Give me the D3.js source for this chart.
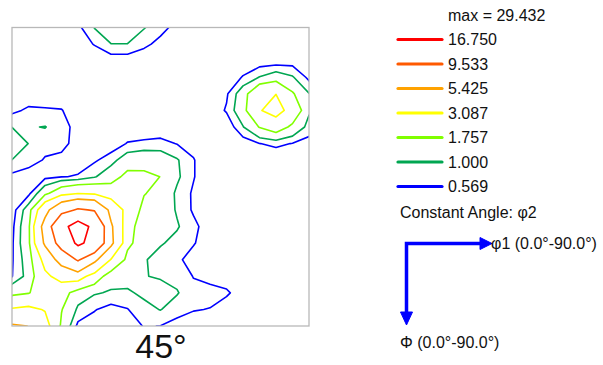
<!DOCTYPE html>
<html>
<head>
<meta charset="utf-8">
<script src="https://cdn.jsdelivr.net/npm/d3@7"></script>
<style>
  body { margin: 0; background: #fff; }
  text { font-family: Arial, "Liberation Sans", sans-serif; fill: #111; }
</style>
</head>
<body>
<svg id="chart" width="603" height="365"></svg>
<script>
// ODF section at constant phi2: intensity on a 5-degree grid,
// rows = Phi 0..90 (top to bottom), columns = phi1 0..90 (left to right).
const phi1Angles = d3.range(0, 95, 5);
const PhiAngles = d3.range(0, 95, 5);
const odfRows = [
  [0.10,0.10,0.12,0.20,0.45,1.02,1.40,1.40,1.03,0.75,0.39,0.15,0.10,0.10,0.10,0.10,0.12,0.12,0.10],
  [0.10,0.10,0.12,0.15,0.30,0.60,0.99,0.99,0.70,0.40,0.15,0.10,0.10,0.10,0.10,0.12,0.15,0.15,0.12],
  [0.10,0.10,0.10,0.10,0.15,0.20,0.30,0.30,0.20,0.15,0.10,0.10,0.10,0.10,0.10,0.30,0.30,0.35,0.20],
  [0.10,0.10,0.10,0.12,0.15,0.15,0.10,0.10,0.10,0.10,0.10,0.10,0.10,0.10,0.62,1.02,1.34,1.05,0.45],
  [0.25,0.30,0.30,0.20,0.15,0.10,0.10,0.10,0.10,0.10,0.10,0.10,0.10,0.50,1.35,2.80,3.07,1.85,1.02],
  [0.46,0.65,0.62,0.60,0.20,0.10,0.10,0.10,0.10,0.10,0.10,0.10,0.25,0.62,1.45,3.00,3.60,2.57,1.08],
  [0.99,0.96,1.02,0.75,0.40,0.15,0.10,0.25,0.30,0.30,0.20,0.10,0.10,0.24,0.97,1.80,2.30,1.55,0.80],
  [1.40,0.99,0.75,0.70,0.40,0.20,0.30,0.60,0.65,0.70,0.55,0.40,0.10,0.10,0.30,0.56,0.68,0.55,0.40],
  [0.99,0.80,0.52,0.45,0.40,0.50,0.80,1.35,1.50,1.40,1.05,0.60,0.20,0.10,0.10,0.20,0.20,0.15,0.10],
  [0.45,0.30,0.45,0.55,0.60,0.95,1.40,2.00,1.90,1.75,1.10,0.60,0.20,0.10,0.10,0.10,0.10,0.10,0.10],
  [0.30,0.45,1.50,2.50,3.00,2.80,2.30,2.40,1.80,1.50,0.90,0.50,0.15,0.10,0.10,0.10,0.10,0.10,0.10],
  [0.35,1.30,4.50,8.00,10.0,9.20,4.60,2.50,1.50,1.35,0.95,0.50,0.15,0.10,0.10,0.10,0.10,0.10,0.10],
  [0.45,1.50,6.50,14.5,20.0,15.0,5.80,2.00,1.45,1.25,1.05,0.70,0.30,0.10,0.10,0.10,0.10,0.10,0.10],
  [0.50,1.50,5.80,11.5,18.0,14.5,6.00,1.95,1.35,1.05,0.85,0.62,0.20,0.10,0.10,0.10,0.10,0.10,0.10],
  [0.52,1.30,3.60,6.50,10.0,6.00,3.00,1.50,1.05,0.80,0.70,0.30,0.15,0.10,0.10,0.10,0.10,0.10,0.10],
  [0.55,1.20,2.80,3.60,3.80,2.40,1.20,1.20,1.02,0.95,0.85,0.55,0.40,0.30,0.10,0.10,0.10,0.10,0.10],
  [1.50,1.70,2.30,2.20,1.30,1.05,0.95,0.93,1.10,1.20,1.04,0.70,0.75,0.65,0.30,0.10,0.10,0.10,0.10],
  [3.20,3.40,3.00,1.80,0.90,0.60,0.40,0.55,0.85,1.02,0.75,0.60,0.55,0.30,0.10,0.10,0.10,0.10,0.10],
  [5.70,5.40,3.70,1.60,0.45,0.35,0.30,0.30,0.60,0.56,0.40,0.30,0.20,0.15,0.10,0.10,0.10,0.10,0.10]
];

// Contour levels (log-spaced) and their legend entries
const levels = [0.569, 1.000, 1.757, 3.087, 5.425, 9.533, 16.750];
const levelLabels = ["0.569", "1.000", "1.757", "3.087", "5.425", "9.533", "16.750"];
const levelColors = ["#0000ff", "#00a651", "#80ff00", "#ffff00", "#ffa200", "#ff5a00", "#ff0000"];
const maxLabel = "max = 29.432";
const sectionLabel = "45°";
const sectionAxisLabel = "Constant Angle: φ2";
const phi1AxisLabel = "φ1 (0.0°-90.0°)";
const PhiAxisLabel = "Φ (0.0°-90.0°)";

const svg = d3.select("#chart");

const x = d3.scaleLinear().domain([0, 90]).range([12, 309]);
const y = d3.scaleLinear().domain([0, 90]).range([27.5, 326]);
const step = 5;

const nx = phi1Angles.length, ny = PhiAngles.length;
const values = odfRows.flat();

// d3.contours places grid value i at coordinate i + 0.5
const toPlot = d3.geoTransform({
  point(px, py) {
    this.stream.point(x((px - 0.5) * step), y((py - 0.5) * step));
  }
});
const path = d3.geoPath(toPlot);

svg.append("defs").append("clipPath").attr("id", "plot-clip")
  .append("rect")
  .attr("x", x(0)).attr("y", y(0))
  .attr("width", x(90) - x(0)).attr("height", y(90) - y(0));

const contours = d3.contours().size([nx, ny]).thresholds(levels)(values);

svg.append("g")
  .attr("clip-path", "url(#plot-clip)")
  .selectAll("path")
  .data(contours)
  .join("path")
  .attr("d", path)
  .attr("fill", "none")
  .attr("stroke", d => levelColors[levels.indexOf(d.value)])
  .attr("stroke-width", 1.6)
  .attr("stroke-linejoin", "round");

// plot frame
svg.append("rect")
  .attr("x", x(0)).attr("y", y(0))
  .attr("width", x(90) - x(0)).attr("height", y(90) - y(0))
  .attr("fill", "none")
  .attr("stroke", "#b8b8b8")
  .attr("stroke-width", 1.3);

// section angle caption
svg.append("text")
  .attr("x", 161)
  .attr("y", 357.5)
  .attr("text-anchor", "middle")
  .style("font-size", "34px")
  .text(sectionLabel);

// legend
const legendX = 398, legendTop = 39.5, legendGap = 24.5;
const lg = svg.append("g");
lg.append("text")
  .attr("x", 448).attr("y", 15).attr("dy", "0.35em")
  .style("font-size", "16px")
  .text(maxLabel);

const order = d3.range(levels.length).reverse();
order.forEach((li, k) => {
  const yy = legendTop + k * legendGap;
  lg.append("line")
    .attr("x1", legendX).attr("x2", legendX + 44)
    .attr("y1", yy).attr("y2", yy)
    .attr("stroke", levelColors[li])
    .attr("stroke-width", 3.2)
    .attr("stroke-linecap", "round");
  lg.append("text")
    .attr("x", 448).attr("y", yy).attr("dy", "0.35em")
    .style("font-size", "16px")
    .text(levelLabels[li]);
});

lg.append("text")
  .attr("x", 400).attr("y", 212).attr("dy", "0.35em")
  .style("font-size", "16px")
  .text(sectionAxisLabel);

// axis direction arrows
const ax0 = 406.5, ay0 = 243.5;
const arrows = svg.append("g").attr("fill", "#0000ff").attr("stroke", "#0000ff");
arrows.append("path")
  .attr("d", `M${ax0},${ay0 + 1.75}V314 M${ax0 - 1.75},${ay0}H481`)
  .attr("fill", "none")
  .attr("stroke-width", 3.5);
arrows.append("path")
  .attr("d", `M480,${ay0 - 6}L492,${ay0}L480,${ay0 + 6}Z`)
  .attr("stroke-width", 1);
arrows.append("path")
  .attr("d", `M${ax0 - 6},312L${ax0},325L${ax0 + 6},312Z`)
  .attr("stroke-width", 1);

svg.append("text")
  .attr("x", 491).attr("y", ay0).attr("dy", "0.35em")
  .style("font-size", "16px")
  .text(phi1AxisLabel);
svg.append("text")
  .attr("x", 400).attr("y", 342).attr("dy", "0.35em")
  .style("font-size", "16px")
  .text(PhiAxisLabel);
</script>
</body>
</html>
